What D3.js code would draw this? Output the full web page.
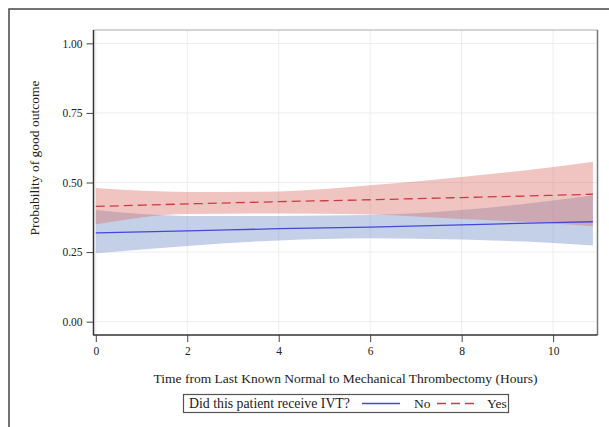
<!DOCTYPE html>
<meta charset="utf-8">
<style>
  body { margin: 0; background: #fff; font-family: "Liberation Serif", "DejaVu Serif", serif; }
  svg { display: block; }
</style>
<body>
<div id="chart"></div>
<script src="https://d3js.org/d3.v7.min.js"></script>
<script>

// hours since last known normal
const hours = [0, 2, 4, 6, 8, 10, 10.87];

// IVT = No
const noFit   = [0.319, 0.326, 0.334, 0.340, 0.348, 0.356, 0.359];
const noLower = [0.246, 0.272, 0.292, 0.300, 0.295, 0.283, 0.274];
const noUpper = [0.401, 0.380, 0.380, 0.383, 0.401, 0.435, 0.454];

// IVT = Yes
const yesFit   = [0.414, 0.423, 0.431, 0.438, 0.446, 0.454, 0.458];
const yesLower = [0.350, 0.387, 0.389, 0.385, 0.369, 0.353, 0.343];
const yesUpper = [0.480, 0.466, 0.468, 0.490, 0.520, 0.556, 0.575];

const xTicks = [0, 2, 4, 6, 8, 10];
const yTicks = [0, 0.25, 0.5, 0.75, 1];

const width = 609, height = 427;
const plot = {left: 93.5, right: 597.5, top: 30, bottom: 335};

const x = d3.scaleLinear().domain([-0.05, 10.97]).range([plot.left, plot.right]);
const y = d3.scaleLinear().domain([-0.048, 1.048]).range([plot.bottom, plot.top]);

const svg = d3.select("#chart").append("svg")
  .attr("width", width).attr("height", height)
  .style("font-family", '"Liberation Serif", "DejaVu Serif", serif');

// outer frame (only top and left are visible)
svg.append("path")
  .attr("d", `M9,${height} L9,9 L${width},9`)
  .attr("fill", "none").attr("stroke", "#444").attr("stroke-width", 1.5);

// grid
svg.append("g").selectAll("line")
  .data(yTicks).join("line")
  .attr("x1", plot.left).attr("x2", plot.right)
  .attr("y1", d => y(d)).attr("y2", d => y(d))
  .attr("stroke", "#ededed");
svg.append("g").selectAll("line")
  .data(xTicks).join("line")
  .attr("x1", d => x(d)).attr("x2", d => x(d))
  .attr("y1", plot.top).attr("y2", plot.bottom)
  .attr("stroke", "#ededed");

const pts = (lo, hi) => hours.map((h, i) => ({h, lo: lo[i], hi: hi[i]}));
const area = d3.area().curve(d3.curveMonotoneX)
  .x(d => x(d.h)).y0(d => y(d.lo)).y1(d => y(d.hi));
const line = d3.line().curve(d3.curveMonotoneX)
  .x(d => x(d.h)).y(d => y(d.v));

// bands
svg.append("path").datum(pts(noLower, noUpper))
  .attr("d", area).attr("fill", "rgb(108,138,198)").attr("fill-opacity", 0.4);
svg.append("path").datum(pts(yesLower, yesUpper))
  .attr("d", area).attr("fill", "rgb(218,108,98)").attr("fill-opacity", 0.4);

// fitted lines
svg.append("path").datum(hours.map((h, i) => ({h, v: noFit[i]})))
  .attr("d", line).attr("fill", "none")
  .attr("stroke", "#4646dc").attr("stroke-width", 1.3);
svg.append("path").datum(hours.map((h, i) => ({h, v: yesFit[i]})))
  .attr("d", line).attr("fill", "none")
  .attr("stroke", "#cc3c44").attr("stroke-width", 1.3)
  .attr("stroke-dasharray", "9,5");

// wall border
svg.append("line")
  .attr("x1", plot.left).attr("x2", plot.right)
  .attr("y1", plot.top).attr("y2", plot.top)
  .attr("stroke", "#aaa");
svg.append("line")
  .attr("x1", plot.right).attr("x2", plot.right)
  .attr("y1", plot.top).attr("y2", plot.bottom)
  .attr("stroke", "#777").attr("stroke-width", 1.5);

// axes
const yAxis = svg.append("g")
  .attr("transform", `translate(${plot.left},0)`)
  .call(d3.axisLeft(y).tickValues(yTicks).tickFormat(d3.format(".2f")).tickSize(7).tickPadding(4));
const xAxis = svg.append("g")
  .attr("transform", `translate(0,${plot.bottom})`)
  .call(d3.axisBottom(x).tickValues(xTicks).tickSize(7).tickPadding(5));
[xAxis, yAxis].forEach(g => {
  g.select(".domain").remove();
  g.selectAll("line").attr("stroke", "#444");
  g.selectAll("text").attr("fill", "#222").style("font-size", "11.5px")
    .style("font-family", '"Liberation Serif", serif');
});
svg.append("line")
  .attr("x1", plot.left).attr("x2", plot.left)
  .attr("y1", plot.top).attr("y2", plot.bottom + 0.5)
  .attr("stroke", "#333").attr("stroke-width", 1.5);
svg.append("line")
  .attr("x1", plot.left).attr("x2", plot.right)
  .attr("y1", plot.bottom).attr("y2", plot.bottom)
  .attr("stroke", "#333").attr("stroke-width", 1.5);

// axis titles
svg.append("text")
  .attr("x", (plot.left + plot.right) / 2).attr("y", 383)
  .attr("text-anchor", "middle").attr("fill", "#222")
  .style("font-size", "13.5px")
  .text("Time from Last Known Normal to Mechanical Thrombectomy (Hours)");
svg.append("text")
  .attr("transform", "translate(39,158) rotate(-90)")
  .attr("text-anchor", "middle").attr("fill", "#222")
  .style("font-size", "13.5px")
  .text("Probability of good outcome");

// legend
const legend = svg.append("g");
legend.append("rect")
  .attr("x", 183.5).attr("y", 394.5).attr("width", 325).attr("height", 18)
  .attr("fill", "#fff").attr("stroke", "#555").attr("stroke-width", 1.2);
legend.append("text").attr("x", 189).attr("y", 408)
  .attr("fill", "#222").style("font-size", "13.8px")
  .text("Did this patient receive IVT?");
legend.append("line").attr("x1", 362).attr("x2", 400).attr("y1", 403.5).attr("y2", 403.5)
  .attr("stroke", "#4646dc").attr("stroke-width", 1.3);
legend.append("text").attr("x", 414).attr("y", 408)
  .attr("fill", "#222").style("font-size", "13.5px").text("No");
legend.append("line").attr("x1", 437).attr("x2", 479).attr("y1", 403.5).attr("y2", 403.5)
  .attr("stroke", "#cc3c44").attr("stroke-width", 1.3).attr("stroke-dasharray", "9,5");
legend.append("text").attr("x", 487).attr("y", 408)
  .attr("fill", "#222").style("font-size", "13.5px").text("Yes");
</script>
</body>
